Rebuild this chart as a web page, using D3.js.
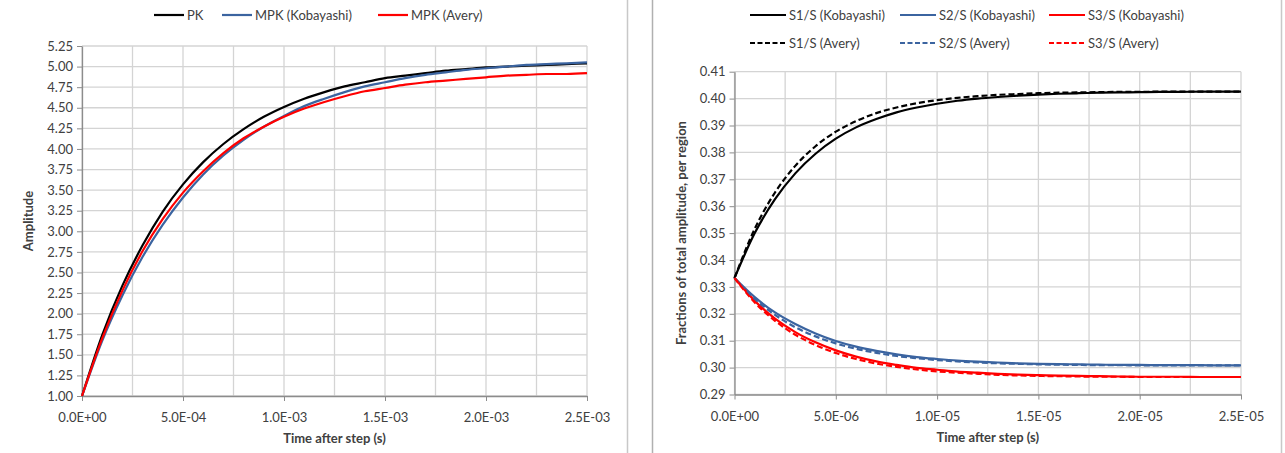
<!DOCTYPE html>
<html>
<head>
<meta charset="utf-8">
<script src="https://cdn.jsdelivr.net/npm/d3@7"></script>
<style>
  body { margin: 0; background: #fff; }
  svg text { font-family: Lato, "Open Sans", sans-serif; fill: #404040; }
  .grid line { stroke: #d4d4d4; stroke-width: 1.3; }
  .axis path, .axis line { stroke: #8c8c8c; }
</style>
</head>
<body>
<svg width="1285" height="453"></svg>
<script>
// ---- left chart data (amplitude after step) ----
var timeL = [0, 1e-4, 2e-4, 3e-4, 4e-4, 5e-4, 6e-4, 7e-4, 8e-4, 9e-4, 1e-3,
  1.1e-3, 1.2e-3, 1.3e-3, 1.4e-3, 1.5e-3, 1.6e-3, 1.7e-3, 1.8e-3, 1.9e-3, 2e-3,
  2.1e-3, 2.2e-3, 2.3e-3, 2.4e-3, 2.5e-3];
var pk = [1.00, 1.74, 2.34, 2.83, 3.24, 3.57, 3.84, 4.06, 4.24, 4.39, 4.51,
  4.61, 4.69, 4.76, 4.81, 4.86, 4.89, 4.92, 4.95, 4.97, 4.99,
  5.00, 5.01, 5.02, 5.03, 5.04];
var mpkKoba = [1.00, 1.67, 2.22, 2.69, 3.08, 3.41, 3.69, 3.92, 4.11, 4.27, 4.40,
  4.52, 4.61, 4.69, 4.76, 4.81, 4.86, 4.90, 4.93, 4.96, 4.98,
  5.00, 5.02, 5.03, 5.04, 5.05];
var mpkAvery = [1.00, 1.70, 2.28, 2.76, 3.15, 3.47, 3.73, 3.95, 4.13, 4.27, 4.39,
  4.49, 4.57, 4.64, 4.70, 4.74, 4.78, 4.81, 4.83, 4.85, 4.87,
  4.89, 4.90, 4.91, 4.91, 4.92];
var yTicksL = [1.00, 1.25, 1.50, 1.75, 2.00, 2.25, 2.50, 2.75, 3.00, 3.25, 3.50,
  3.75, 4.00, 4.25, 4.50, 4.75, 5.00, 5.25];
var xTicksL = [0, 5e-4, 1e-3, 1.5e-3, 2e-3, 2.5e-3];
var xGridL = [0, 2.5e-4, 5e-4, 7.5e-4, 1e-3, 1.25e-3, 1.5e-3, 1.75e-3, 2e-3, 2.25e-3, 2.5e-3];

// ---- right chart data (fractions per region) ----
var timeR = [0, 1e-6, 2e-6, 3e-6, 4e-6, 5e-6, 6e-6, 7e-6, 8e-6, 9e-6, 1e-5,
  1.1e-5, 1.2e-5, 1.3e-5, 1.4e-5, 1.5e-5, 1.6e-5, 1.7e-5, 1.8e-5, 1.9e-5, 2e-5,
  2.1e-5, 2.2e-5, 2.3e-5, 2.4e-5, 2.5e-5];
var s1Koba = [0.3333, 0.3500, 0.3626, 0.3722, 0.3795, 0.3851, 0.3893, 0.3924, 0.3949, 0.3967, 0.3981,
  0.3992, 0.4000, 0.4006, 0.4011, 0.4015, 0.4018, 0.4020, 0.4022, 0.4023, 0.4024,
  0.4025, 0.4025, 0.4026, 0.4026, 0.4026];
var s2Koba = [0.3333, 0.3262, 0.3205, 0.3162, 0.3127, 0.3099, 0.3078, 0.3062, 0.3049, 0.3039, 0.3032,
  0.3026, 0.3022, 0.3019, 0.3016, 0.3014, 0.3013, 0.3012, 0.3011, 0.3010, 0.3010,
  0.3009, 0.3009, 0.3009, 0.3008, 0.3008];
var s3Koba = [0.3333, 0.3248, 0.3182, 0.3132, 0.3094, 0.3064, 0.3041, 0.3023, 0.3010, 0.2999, 0.2992,
  0.2985, 0.2981, 0.2977, 0.2974, 0.2972, 0.2970, 0.2969, 0.2968, 0.2967, 0.2966,
  0.2966, 0.2966, 0.2965, 0.2965, 0.2965];
var s1Avery = [0.3333, 0.3516, 0.3651, 0.3750, 0.3823, 0.3877, 0.3916, 0.3946, 0.3967, 0.3983, 0.3994,
  0.4003, 0.4009, 0.4014, 0.4017, 0.4020, 0.4022, 0.4023, 0.4024, 0.4025, 0.4025,
  0.4026, 0.4026, 0.4026, 0.4026, 0.4026];
var s2Avery = [0.3333, 0.3255, 0.3196, 0.3150, 0.3116, 0.3090, 0.3070, 0.3055, 0.3043, 0.3035, 0.3028,
  0.3023, 0.3019, 0.3016, 0.3014, 0.3012, 0.3011, 0.3010, 0.3009, 0.3009, 0.3008,
  0.3008, 0.3008, 0.3008, 0.3008, 0.3008];
var s3Avery = [0.3333, 0.3242, 0.3174, 0.3122, 0.3084, 0.3054, 0.3032, 0.3015, 0.3003, 0.2993, 0.2986,
  0.2981, 0.2977, 0.2973, 0.2971, 0.2969, 0.2968, 0.2967, 0.2966, 0.2966, 0.2965,
  0.2965, 0.2965, 0.2965, 0.2965, 0.2965];
var yTicksR = [0.29, 0.30, 0.31, 0.32, 0.33, 0.34, 0.35, 0.36, 0.37, 0.38, 0.39, 0.40, 0.41];
var xTicksR = [0, 5e-6, 1e-5, 1.5e-5, 2e-5, 2.5e-5];
var xGridR = [0, 2.5e-6, 5e-6, 7.5e-6, 1e-5, 1.25e-5, 1.5e-5, 1.75e-5, 2e-5, 2.25e-5, 2.5e-5];

var BLACK = "#000000", BLUE = "#3b64a0", RED = "#ff0000";

var svg = d3.select("svg");

// excel like 0.0E+00 labels
function fmtE(v) {
  return v.toExponential(1).replace(/e([+-])(\d)$/, "E$10$2").replace(/e([+-])(\d\d)$/, "E$1$2");
}

// chart frames
svg.append("line").attr("x1", 627.5).attr("x2", 627.5).attr("y1", 0).attr("y2", 453)
  .attr("stroke", "#c8c8c8").attr("stroke-width", 1.5);
svg.append("line").attr("x1", 652.5).attr("x2", 652.5).attr("y1", 0).attr("y2", 453)
  .attr("stroke", "#b0b0b0").attr("stroke-width", 1.5);
svg.append("line").attr("x1", 1281.5).attr("x2", 1281.5).attr("y1", 0).attr("y2", 453)
  .attr("stroke", "#c8c8c8").attr("stroke-width", 1.5);

function drawChart(opt) {
  var x = d3.scaleLinear().domain(opt.xDomain).range(opt.xRange);
  var y = d3.scaleLinear().domain(opt.yDomain).range(opt.yRange);
  var g = svg.append("g");

  // gridlines
  var grid = g.append("g").attr("class", "grid");
  grid.selectAll(".h").data(opt.yTicks).enter().append("line")
    .attr("x1", opt.xRange[0]).attr("x2", opt.xRange[1])
    .attr("y1", function(d) { return y(d); }).attr("y2", function(d) { return y(d); });
  grid.selectAll(".v").data(opt.xGrid).enter().append("line")
    .attr("y1", opt.yRange[0]).attr("y2", opt.yRange[1])
    .attr("x1", function(d) { return x(d); }).attr("x2", function(d) { return x(d); });

  // axes
  var yAxis = d3.axisLeft(y).tickValues(opt.yTicks).tickSize(5).tickSizeOuter(0)
    .tickFormat(d3.format(opt.yFmt));
  var ya = g.append("g").attr("class", "axis").attr("transform", "translate(" + opt.xRange[0] + ",0)").call(yAxis);
  ya.selectAll("text").style("font-size", "13px").attr("x", -9);

  var xAxis = d3.axisBottom(x).tickValues(opt.xTicks).tickSize(5).tickSizeOuter(0).tickFormat(fmtE);
  var xa = g.append("g").attr("class", "axis").attr("transform", "translate(0," + opt.yRange[0] + ")").call(xAxis);
  xa.selectAll("text").style("font-size", "13px").attr("y", 17);
  g.selectAll(".axis path").attr("stroke-width", 1.3);

  // axis titles
  g.append("text").attr("x", (opt.xRange[0] + opt.xRange[1]) / 2).attr("y", opt.yRange[0] + 47)
    .attr("text-anchor", "middle").style("font-size", "13px").style("font-weight", "bold")
    .text("Time after step (s)");
  var cy = (opt.yRange[0] + opt.yRange[1]) / 2;
  g.append("text").attr("transform", "translate(" + opt.yTitleX + "," + cy + ") rotate(-90)")
    .attr("text-anchor", "middle").style("font-size", "13px").style("font-weight", "bold")
    .text(opt.yTitle);

  // curves
  var line = d3.line()
    .x(function(d) { return x(d[0]); })
    .y(function(d) { return y(d[1]); })
    .curve(d3.curveMonotoneX);
  opt.series.forEach(function(s) {
    g.append("path")
      .datum(d3.zip(opt.time, s.values))
      .attr("fill", "none")
      .attr("stroke", s.color)
      .attr("stroke-width", 2.2)
      .attr("stroke-dasharray", s.dash ? "6,3" : null)
      .attr("d", line);
  });

  // legend
  var lg = g.append("g");
  opt.series.forEach(function(s) {
    var it = lg.append("g").attr("transform", "translate(" + s.lx + "," + s.ly + ")");
    it.append("line").attr("x1", 0).attr("x2", s.lw).attr("y1", 0).attr("y2", 0)
      .attr("stroke", s.color).attr("stroke-width", 2.2)
      .attr("stroke-dasharray", s.dash ? "5,2.5" : null);
    it.append("text").attr("x", s.lw + 3).attr("y", 4.5).style("font-size", "13px").text(s.name);
  });
}

drawChart({
  xDomain: [0, 2.5e-3], xRange: [82, 587],
  yDomain: [1, 5.25], yRange: [396, 46],
  yTicks: yTicksL, xTicks: xTicksL, xGrid: xGridL, yFmt: ".2f",
  yTitle: "Amplitude", yTitleX: 33,
  time: timeL,
  series: [
    { name: "PK", values: pk, color: BLACK, lx: 154, ly: 15, lw: 30 },
    { name: "MPK (Kobayashi)", values: mpkKoba, color: BLUE, lx: 222, ly: 15, lw: 30 },
    { name: "MPK (Avery)", values: mpkAvery, color: RED, lx: 378, ly: 15, lw: 30 }
  ]
});

drawChart({
  xDomain: [0, 2.5e-5], xRange: [734.5, 1241],
  yDomain: [0.29, 0.41], yRange: [394.5, 71.7],
  yTicks: yTicksR, xTicks: xTicksR, xGrid: xGridR, yFmt: ".2f",
  yTitle: "Fractions of total amplitude, per region", yTitleX: 686,
  time: timeR,
  series: [
    { name: "S1/S (Kobayashi)", values: s1Koba, color: BLACK, lx: 750, ly: 15, lw: 36 },
    { name: "S2/S (Kobayashi)", values: s2Koba, color: BLUE, lx: 900, ly: 15, lw: 36 },
    { name: "S3/S (Kobayashi)", values: s3Koba, color: RED, lx: 1049, ly: 15, lw: 36 },
    { name: "S1/S (Avery)", values: s1Avery, color: BLACK, dash: true, lx: 750, ly: 43, lw: 36 },
    { name: "S2/S (Avery)", values: s2Avery, color: BLUE, dash: true, lx: 900, ly: 43, lw: 36 },
    { name: "S3/S (Avery)", values: s3Avery, color: RED, dash: true, lx: 1049, ly: 43, lw: 36 }
  ]
});
</script>
</body>
</html>
